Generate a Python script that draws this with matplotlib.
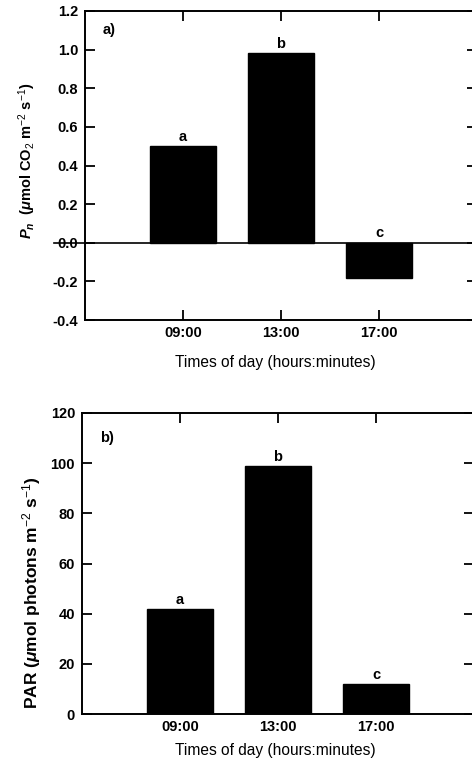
import matplotlib
matplotlib.use("Agg")
import matplotlib.pyplot as plt

plt.rcParams['font.family'] = ['Liberation Sans', 'DejaVu Sans']
plt.rcParams['mathtext.fontset'] = 'custom'
plt.rcParams['mathtext.rm'] = 'Liberation Sans'
plt.rcParams['mathtext.it'] = 'Liberation Sans:italic:bold'
plt.rcParams['mathtext.bf'] = 'Liberation Sans:bold'

times = ["09:00", "13:00", "17:00"]
pn_values = [0.50, 0.98, -0.18]
pn_letters = ["a", "b", "c"]
par_values = [42, 99, 12]
par_letters = ["a", "b", "c"]
pn_yticks = [-0.4, -0.2, 0.0, 0.2, 0.4, 0.6, 0.8, 1.0, 1.2]
pn_yticklabels = ["-0.4", "-0.2", "0.0", "0.2", "0.4", "0.6", "0.8", "1.0", "1.2"]
par_yticks = [0, 20, 40, 60, 80, 100, 120]

W, H = 472, 762
fig = plt.figure(figsize=(W / 100, H / 100), dpi=100)

def fx(px):
    return px / W

def fy(py):
    return 1 - py / H

ax1 = fig.add_axes([fx(85), fy(320), fx(477 - 85), (320 - 11) / H])
ax2 = fig.add_axes([fx(82), fy(714), fx(474 - 82), (714 - 413) / H])

TS = 10.5
pos = [1, 2, 3]
for ax in (ax1, ax2):
    for s in ax.spines.values():
        s.set_linewidth(1.4)
    ax.set_xlim(0, 4)
    ax.set_xticks(pos)
    ax.set_xticklabels(times, fontsize=TS, fontweight='bold')
    ax.tick_params(axis='both', direction='in', length=7, width=1.3,
                   top=True, right=True, labelsize=TS)
    ax.tick_params(axis='x', pad=4)
    ax.tick_params(axis='y', pad=5)

# Panel a
ax1.bar(pos, pn_values, width=0.68, color='black', edgecolor='black')
ax1.set_ylim(-0.4, 1.2)
ax1.set_yticks(pn_yticks)
ax1.set_yticklabels(pn_yticklabels, fontsize=TS, fontweight='bold')
ax1.axhline(0, color='black', lw=1.2, xmin=-0.08, xmax=1, clip_on=False)
for x, v, l in zip(pos, pn_values, pn_letters):
    ax1.text(x, max(v, 0) + 0.012, l, ha='center', va='bottom',
             fontsize=TS, fontweight='bold')
ax1.text(0.18, 1.1, "a)", fontsize=TS, fontweight='bold', ha='left', va='center')
ax1.set_ylabel(r"$P_n$  ($\mu$mol CO$_2$ m$^{-2}$ s$^{-1}$)", fontsize=10.5,
               fontweight='bold')
ax1.yaxis.set_label_coords(-(85 - 27) / (477 - 85), 0.515)
ax1.yaxis.label.set_va('center')
ax1.set_xlabel("Times of day (hours:minutes)", fontsize=11.2)
ax1.xaxis.label.set_va('center')
ax1.xaxis.set_label_coords((275 - 85) / (477 - 85), -(362 - 320) / (320 - 11))

# Panel b
ax2.bar(pos, par_values, width=0.68, color='black', edgecolor='black')
ax2.set_ylim(0, 120)
ax2.set_yticks(par_yticks)
ax2.set_yticklabels([str(v) for v in par_yticks], fontsize=TS, fontweight='bold')
for x, v, l in zip(pos, par_values, par_letters):
    ax2.text(x, v + 0.8, l, ha='center', va='bottom', fontsize=TS, fontweight='bold')
ax2.text(0.18, 110, "b)", fontsize=TS, fontweight='bold', ha='left', va='center')
ax2.set_ylabel(r"PAR ($\mu$mol photons m$^{-2}$ s$^{-1}$)", fontsize=12.5,
               fontweight='bold')
ax2.yaxis.set_label_coords(-(82 - 32) / (474 - 82), (714 - 593) / (714 - 413))
ax2.yaxis.label.set_va('center')
ax2.set_xlabel("Times of day (hours:minutes)", fontsize=11.2)
ax2.xaxis.label.set_va('center')
ax2.xaxis.set_label_coords((275 - 82) / (474 - 82), -(751 - 714) / (714 - 413))

fig.savefig("out.png", dpi=100)
